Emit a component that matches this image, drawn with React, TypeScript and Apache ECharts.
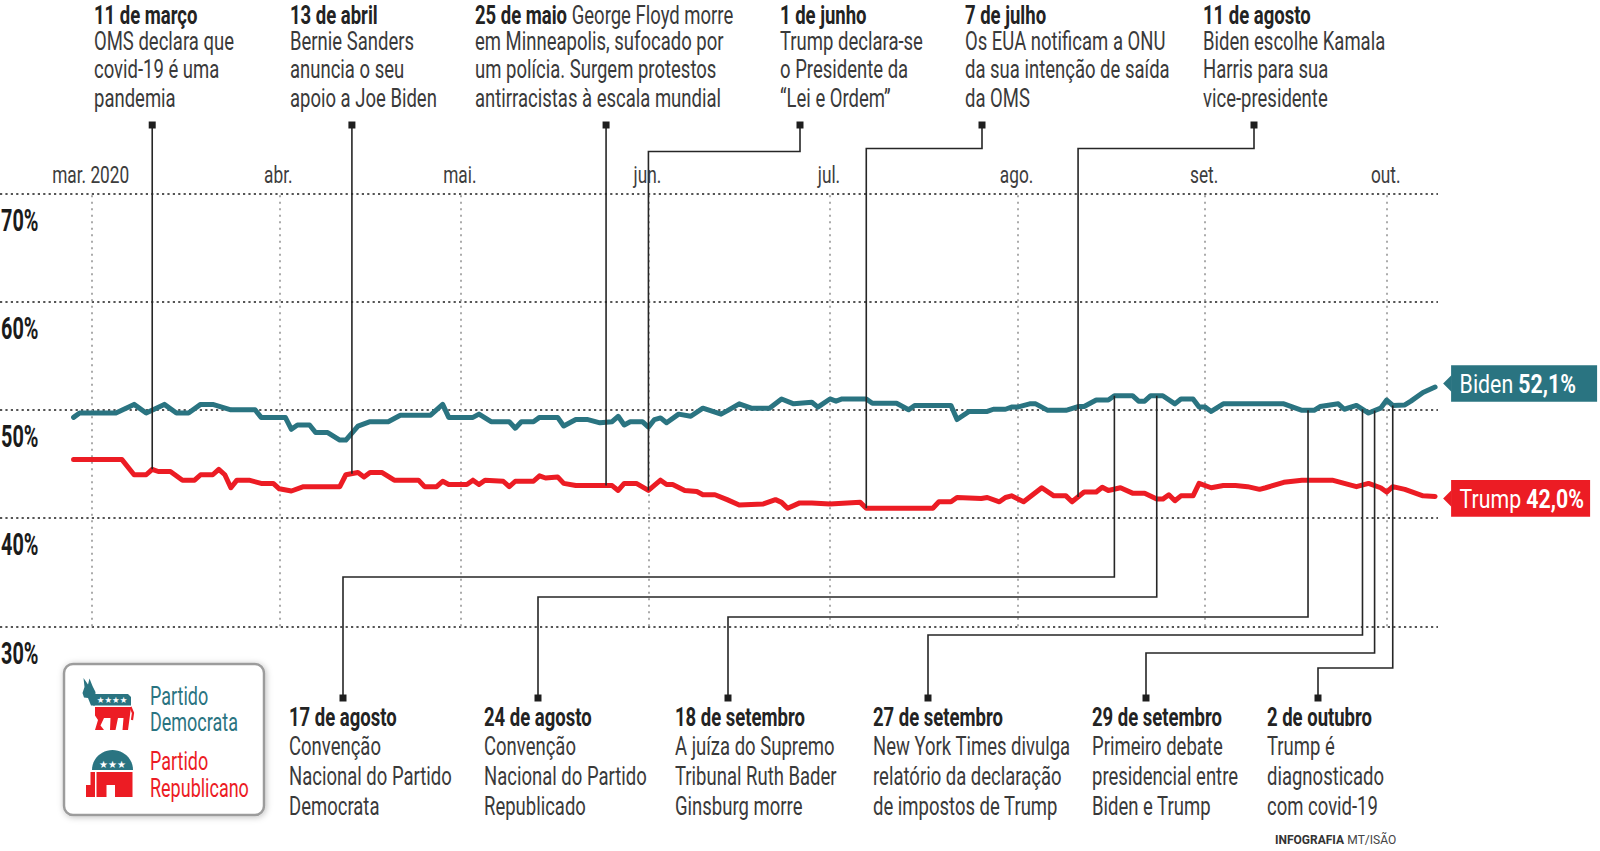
import React, { useEffect, useRef } from 'react';
import * as echarts from 'echarts';

// ---------- data ----------
const MONTH_STARTS = ['2020-03-01', '2020-04-01', '2020-05-01', '2020-06-01', '2020-07-01', '2020-08-01', '2020-09-01', '2020-10-01'];
const MONTH_LABELS = ['mar. 2020', 'abr.', 'mai.', 'jun.', 'jul.', 'ago.', 'set.', 'out.'];
const Y_MIN = 30;
const Y_MAX = 70;
const Y_STEP = 10;

const BIDEN: [string, number][] = [
  ['2020-02-27', 49.3], ['2020-02-28', 49.7], ['2020-03-05', 49.7], ['2020-03-08', 50.5], ['2020-03-10', 49.7],
  ['2020-03-13', 50.5], ['2020-03-15', 49.7], ['2020-03-17', 49.7], ['2020-03-19', 50.5], ['2020-03-21', 50.5],
  ['2020-03-24', 50.0], ['2020-03-28', 50.0], ['2020-03-29', 49.3], ['2020-04-02', 49.3], ['2020-04-03', 48.2],
  ['2020-04-04', 48.6], ['2020-04-06', 48.6], ['2020-04-07', 47.9], ['2020-04-09', 47.9], ['2020-04-11', 47.2],
  ['2020-04-12', 47.2], ['2020-04-14', 48.5], ['2020-04-16', 48.9], ['2020-04-19', 48.9], ['2020-04-21', 49.5],
  ['2020-04-26', 49.5], ['2020-04-28', 50.5], ['2020-04-29', 49.3], ['2020-05-03', 49.3], ['2020-05-04', 49.6],
  ['2020-05-06', 48.9], ['2020-05-09', 48.9], ['2020-05-10', 48.3], ['2020-05-11', 48.9], ['2020-05-13', 48.9],
  ['2020-05-14', 49.3], ['2020-05-17', 49.3], ['2020-05-18', 48.5], ['2020-05-20', 49.1], ['2020-05-22', 49.1],
  ['2020-05-24', 48.8], ['2020-05-26', 48.9], ['2020-05-27', 49.4], ['2020-05-28', 48.6], ['2020-05-29', 48.9],
  ['2020-05-31', 48.9], ['2020-06-01', 48.4], ['2020-06-02', 49.1], ['2020-06-03', 49.25], ['2020-06-04', 48.8],
  ['2020-06-06', 49.6], ['2020-06-08', 49.4], ['2020-06-10', 50.15], ['2020-06-13', 49.6], ['2020-06-14', 49.9],
  ['2020-06-16', 50.55], ['2020-06-18', 50.15], ['2020-06-21', 50.15], ['2020-06-23', 51.0], ['2020-06-25', 50.55],
  ['2020-06-28', 50.7], ['2020-06-29', 50.25], ['2020-07-01', 51.0], ['2020-07-02', 50.8], ['2020-07-03', 51.0],
  ['2020-07-07', 51.0], ['2020-07-08', 50.6], ['2020-07-12', 50.6], ['2020-07-14', 50.0], ['2020-07-15', 50.4],
  ['2020-07-21', 50.4], ['2020-07-22', 49.1], ['2020-07-24', 49.85], ['2020-07-27', 49.85], ['2020-07-28', 50.05],
  ['2020-07-30', 50.05], ['2020-07-31', 50.25], ['2020-08-01', 50.25], ['2020-08-03', 50.55], ['2020-08-04', 50.55],
  ['2020-08-06', 49.95], ['2020-08-09', 49.95], ['2020-08-11', 50.3], ['2020-08-12', 50.3], ['2020-08-14', 50.9],
  ['2020-08-16', 50.9], ['2020-08-17', 51.3], ['2020-08-20', 51.3], ['2020-08-21', 50.8], ['2020-08-22', 50.8],
  ['2020-08-23', 51.3], ['2020-08-25', 51.3], ['2020-08-27', 50.55], ['2020-08-28', 51.0], ['2020-08-30', 51.0],
  ['2020-08-31', 50.25], ['2020-09-01', 50.25], ['2020-09-02', 49.85], ['2020-09-04', 50.55], ['2020-09-14', 50.55],
  ['2020-09-17', 49.95], ['2020-09-19', 49.95], ['2020-09-20', 50.3], ['2020-09-23', 50.55], ['2020-09-24', 50.05],
  ['2020-09-26', 50.4], ['2020-09-28', 49.7], ['2020-09-30', 50.15], ['2020-10-01', 50.9], ['2020-10-02', 50.4],
  ['2020-10-04', 50.45], ['2020-10-05', 50.8], ['2020-10-07', 51.6], ['2020-10-09', 52.1],
];

const TRUMP: [string, number][] = [
  ['2020-02-27', 45.4], ['2020-03-06', 45.4], ['2020-03-08', 44.0], ['2020-03-10', 44.0], ['2020-03-11', 44.5],
  ['2020-03-12', 44.3], ['2020-03-14', 44.3], ['2020-03-16', 43.5], ['2020-03-18', 43.5], ['2020-03-19', 44.0],
  ['2020-03-21', 44.0], ['2020-03-22', 44.5], ['2020-03-23', 44.0], ['2020-03-24', 42.8], ['2020-03-25', 43.5],
  ['2020-03-27', 43.5], ['2020-03-29', 43.2], ['2020-03-31', 43.2], ['2020-04-01', 42.7], ['2020-04-03', 42.5],
  ['2020-04-05', 42.9], ['2020-04-11', 42.9], ['2020-04-12', 44.0], ['2020-04-14', 44.2], ['2020-04-15', 43.8],
  ['2020-04-16', 44.2], ['2020-04-18', 44.2], ['2020-04-20', 43.5], ['2020-04-24', 43.5], ['2020-04-25', 42.9],
  ['2020-04-27', 42.9], ['2020-04-28', 43.4], ['2020-04-29', 43.1], ['2020-05-02', 43.1], ['2020-05-03', 43.5],
  ['2020-05-04', 43.1], ['2020-05-05', 43.5], ['2020-05-08', 43.4], ['2020-05-09', 42.9], ['2020-05-10', 43.4],
  ['2020-05-13', 43.4], ['2020-05-14', 43.9], ['2020-05-15', 43.7], ['2020-05-17', 43.8], ['2020-05-18', 43.2],
  ['2020-05-20', 43.0], ['2020-05-26', 43.0], ['2020-05-27', 42.55], ['2020-05-28', 43.2], ['2020-05-30', 43.2],
  ['2020-06-01', 42.55], ['2020-06-03', 43.5], ['2020-06-04', 43.1], ['2020-06-05', 43.1], ['2020-06-07', 42.55],
  ['2020-06-09', 42.45], ['2020-06-10', 42.15], ['2020-06-12', 42.15], ['2020-06-14', 41.7], ['2020-06-16', 41.2],
  ['2020-06-20', 41.3], ['2020-06-22', 41.7], ['2020-06-23', 41.45], ['2020-06-24', 40.9], ['2020-06-26', 41.4],
  ['2020-06-28', 41.4], ['2020-07-01', 41.3], ['2020-07-06', 41.45], ['2020-07-07', 40.9], ['2020-07-18', 40.9],
  ['2020-07-19', 41.5], ['2020-07-21', 41.5], ['2020-07-22', 41.9], ['2020-07-26', 41.8], ['2020-07-27', 41.9],
  ['2020-07-29', 41.5], ['2020-07-30', 41.9], ['2020-07-31', 42.05], ['2020-08-02', 41.5], ['2020-08-05', 42.8],
  ['2020-08-07', 42.05], ['2020-08-09', 42.05], ['2020-08-10', 41.5], ['2020-08-12', 42.4], ['2020-08-14', 42.4],
  ['2020-08-15', 42.85], ['2020-08-16', 42.55], ['2020-08-18', 42.8], ['2020-08-20', 42.3], ['2020-08-22', 42.3],
  ['2020-08-24', 41.75], ['2020-08-25', 41.75], ['2020-08-26', 42.15], ['2020-08-27', 41.6], ['2020-08-28', 42.05],
  ['2020-08-30', 42.05], ['2020-08-31', 43.2], ['2020-09-02', 42.8], ['2020-09-04', 43.0], ['2020-09-06', 43.0],
  ['2020-09-08', 42.9], ['2020-09-10', 42.65], ['2020-09-11', 42.8], ['2020-09-14', 43.3], ['2020-09-17', 43.5],
  ['2020-09-22', 43.5], ['2020-09-24', 43.2], ['2020-09-26', 42.9], ['2020-09-28', 43.2], ['2020-09-30', 42.8],
  ['2020-10-01', 42.4], ['2020-10-02', 42.9], ['2020-10-04', 42.65], ['2020-10-07', 42.05], ['2020-10-09', 42.0],
];

const TOP_EVENT_DATES = ['2020-03-11', '2020-04-13', '2020-05-25', '2020-06-01', '2020-07-07', '2020-08-11'];
const TOP_EVENT_TITLES = ['11 de março', '13 de abril', '25 de maio', '1 de junho', '7 de julho', '11 de agosto'];
const TOP_EVENT_LEADS = ['', '', 'George Floyd morre', '', '', ''];
const TOP_EVENT_TEXTS = [
  ['OMS declara que', 'covid-19 é uma', 'pandemia'],
  ['Bernie Sanders', 'anuncia o seu', 'apoio a Joe Biden'],
  ['em Minneapolis, sufocado por', 'um polícia. Surgem protestos', 'antirracistas à escala mundial'],
  ['Trump declara-se', 'o Presidente da', '“Lei e Ordem”'],
  ['Os EUA notificam a ONU', 'da sua intenção de saída', 'da OMS'],
  ['Biden escolhe Kamala', 'Harris para sua', 'vice-presidente'],
];

const BOTTOM_EVENT_DATES = ['2020-08-17', '2020-08-24', '2020-09-18', '2020-09-27', '2020-09-29', '2020-10-02'];
const BOTTOM_EVENT_TITLES = ['17 de agosto', '24 de agosto', '18 de setembro', '27 de setembro', '29 de setembro', '2 de outubro'];
const BOTTOM_EVENT_TEXTS = [
  ['Convenção', 'Nacional do Partido', 'Democrata'],
  ['Convenção', 'Nacional do Partido', 'Republicado'],
  ['A juíza do Supremo', 'Tribunal Ruth Bader', 'Ginsburg morre'],
  ['New York Times divulga', 'relatório da declaração', 'de impostos de Trump'],
  ['Primeiro debate', 'presidencial entre', 'Biden e Trump'],
  ['Trump é', 'diagnosticado', 'com covid-19'],
];

const LEGEND_LABELS = [['Partido', 'Democrata'], ['Partido', 'Republicano']];
const CREDIT = ['INFOGRAFIA', 'MT/ISÃO'];

// ---------- style / layout ----------
const TEAL = '#2a7481';
const RED = '#ec1c24';
const INK = '#232323';
const BODY = '#3a3a3a';
const FONT = 'Roboto, "Noto Sans", sans-serif';
const SX = 0.74;
const DAY = 86400000;

const TOP_LAYOUT = [
  { textX: 94, squareX: null as number | null, elbowY: 0 },
  { textX: 290, squareX: null as number | null, elbowY: 0 },
  { textX: 475, squareX: null as number | null, elbowY: 0 },
  { textX: 780, squareX: 800, elbowY: 151.5 },
  { textX: 965, squareX: 982, elbowY: 148.5 },
  { textX: 1203, squareX: 1254, elbowY: 148.5 },
];
const TOP_LINE_Y = [15, 41, 69.5, 98];
const TOP_SQUARE_Y = 125;

const BOTTOM_LAYOUT = [
  { textX: 289, squareX: 343, elbowY: 577 },
  { textX: 484, squareX: 538, elbowY: 597 },
  { textX: 675, squareX: 728, elbowY: 617 },
  { textX: 873, squareX: 928, elbowY: 635 },
  { textX: 1092, squareX: 1146, elbowY: 653 },
  { textX: 1267, squareX: 1318, elbowY: 668 },
];
const BOTTOM_LINE_Y = [717, 746, 776, 806];
const BOTTOM_SQUARE_Y = 698;

function ts(s: string): number {
  const [y, m, d] = s.split('-').map(Number);
  return new Date(y, m - 1, d).getTime();
}

function valueAt(series: [string, number][], t: number): number {
  for (let i = 0; i < series.length - 1; i++) {
    const t0 = ts(series[i][0]);
    const t1 = ts(series[i + 1][0]);
    if (t >= t0 && t <= t1) {
      const f = t1 === t0 ? 0 : (t - t0) / (t1 - t0);
      return series[i][1] + f * (series[i + 1][1] - series[i][1]);
    }
  }
  return series[series.length - 1][1];
}

const fmtPct = (v: number) => v.toFixed(1).replace('.', ',') + '%';

function buildOption(): any {
  const monthTs = MONTH_STARTS.map(ts);
  return {
    animation: false,
    backgroundColor: '#ffffff',
    grid: { left: 0, right: 162, top: 193.3, bottom: 224.7 },
    xAxis: {
      type: 'time',
      position: 'top',
      min: new Date(2020, 1, 14, 20, 18).getTime(),
      max: new Date(2020, 9, 9, 11, 30).getTime(),
      minInterval: 28 * DAY,
      maxInterval: 31 * DAY,
      axisLine: { show: false },
      axisTick: { show: false },
      splitLine: { show: false },
      axisLabel: { show: false },
    },
    yAxis: {
      type: 'value',
      min: Y_MIN,
      max: Y_MAX,
      interval: Y_STEP,
      position: 'left',
      axisLine: { show: false },
      axisTick: { show: false },
      splitLine: { show: true, lineStyle: { color: '#555555', width: 2.2, type: [2.2, 3.2] } },
      axisLabel: { show: false },
    },
    series: [
      {
        name: 'Trump',
        type: 'line',
        data: TRUMP.map(([d, v]) => [ts(d), v]),
        symbol: 'none',
        z: 3,
        lineStyle: { color: RED, width: 5, cap: 'round', join: 'round' },
        itemStyle: { color: RED },
        markLine: {
          silent: true,
          z: 1,
          symbol: ['none', 'none'],
          label: { show: false },
          emphasis: { disabled: true },
          lineStyle: { color: '#ababab', width: 2, type: [2, 4.5] },
          data: monthTs.map((m) => ({ xAxis: m })),
        },
      },
      {
        name: 'Biden',
        type: 'line',
        data: BIDEN.map(([d, v]) => [ts(d), v]),
        symbol: 'none',
        z: 4,
        lineStyle: { color: TEAL, width: 5, cap: 'round', join: 'round' },
        itemStyle: { color: TEAL },
      },
    ],
  };
}

function textEl(x: number, y: number, text: string, opts: any, sx = SX): any {
  return {
    type: 'text',
    x,
    y,
    scaleX: sx,
    z: 30,
    silent: true,
    style: {
      text,
      fontFamily: FONT,
      fontSize: 25,
      fill: BODY,
      align: 'left',
      verticalAlign: 'middle',
      ...opts,
    },
  };
}

function buildGraphics(chart: any): any[] {
  const els: any[] = [];
  const toPx = (t: number, v: number) => chart.convertToPixel({ xAxisIndex: 0, yAxisIndex: 0 }, [t, v]) as number[];
  const titleRich = {
    t: { fontFamily: FONT, fontSize: 25, fontWeight: 'bold', fill: INK },
    r: { fontFamily: FONT, fontSize: 25, fill: BODY },
  };

  // axis tick labels, placed with the axes' own scales
  MONTH_STARTS.forEach((m, i) => {
    const px = chart.convertToPixel({ xAxisIndex: 0 }, ts(m)) as number;
    els.push(textEl(px - 1, 175, MONTH_LABELS[i], { fontSize: 23.5, fill: '#3d3d3d', align: 'center' }, 0.735));
  });
  for (let v = Y_MIN; v <= Y_MAX; v += Y_STEP) {
    const py = chart.convertToPixel({ yAxisIndex: 0 }, v) as number;
    els.push(textEl(1, py + 26, `${v}%`, { fontSize: 32, fontWeight: 'bold', fill: '#1b1b1b' }, 0.62));
  }

  const connector = (sqX: number | null, sqY: number, elbowY: number, dx: number, dy: number) => {
    const x0 = sqX === null ? dx : sqX;
    const pts = sqX === null || Math.abs(sqX - dx) < 1
      ? [[dx, sqY], [dx, dy]]
      : [[x0, sqY], [x0, elbowY], [dx, elbowY], [dx, dy]];
    els.push({
      type: 'polyline', z: 25, silent: true,
      shape: { points: pts },
      style: { stroke: '#262626', lineWidth: 1.6, fill: null },
    });
    els.push({
      type: 'rect', z: 26, silent: true,
      shape: { x: x0 - 3.5, y: sqY - 3.5, width: 7, height: 7 },
      style: { fill: '#1e1e1e' },
    });
  };

  // top annotations -> Trump line
  TOP_EVENT_DATES.forEach((d, i) => {
    const t = ts(d);
    const [dx, dy] = toPx(t, valueAt(TRUMP, t));
    const L = TOP_LAYOUT[i];
    connector(L.squareX, TOP_SQUARE_Y, L.elbowY, dx, dy);
    const lead = TOP_EVENT_LEADS[i];
    els.push(textEl(L.textX, TOP_LINE_Y[0], lead ? `{t|${TOP_EVENT_TITLES[i]}}{r| ${lead}}` : `{t|${TOP_EVENT_TITLES[i]}}`, { rich: titleRich }));
    TOP_EVENT_TEXTS[i].forEach((ln, j) => els.push(textEl(L.textX, TOP_LINE_Y[j + 1], ln, {})));
  });

  // bottom annotations -> Biden line
  BOTTOM_EVENT_DATES.forEach((d, i) => {
    const t = ts(d);
    const [dx, dy] = toPx(t, valueAt(BIDEN, t));
    const L = BOTTOM_LAYOUT[i];
    connector(L.squareX, BOTTOM_SQUARE_Y, L.elbowY, dx, dy);
    els.push(textEl(L.textX, BOTTOM_LINE_Y[0], `{t|${BOTTOM_EVENT_TITLES[i]}}`, { rich: titleRich }));
    BOTTOM_EVENT_TEXTS[i].forEach((ln, j) => els.push(textEl(L.textX, BOTTOM_LINE_Y[j + 1], ln, {})));
  });

  // end labels
  const endLabel = (series: [string, number][], name: string, color: string, width: number, dyOff: number) => {
    const last = series[series.length - 1];
    const [ex, ey] = toPx(ts(last[0]), last[1]);
    const cy = ey + dyOff;
    const left = ex + 16;
    els.push({
      type: 'polygon', z: 20, silent: true,
      shape: { points: [[left - 8, cy], [left + 0.5, cy - 8.5], [left + 0.5, cy + 8.5]] },
      style: { fill: color },
    });
    els.push({
      type: 'rect', z: 20, silent: true,
      shape: { x: left, y: cy - 18.3, width, height: 36.6 },
      style: { fill: color },
    });
    els.push(textEl(left + 8.5, cy + 0.5, `{r|${name}} {b|${fmtPct(last[1])}}`, {
      rich: {
        r: { fontFamily: FONT, fontSize: 26, fill: '#ffffff' },
        b: { fontFamily: FONT, fontSize: 26, fontWeight: 'bold', fill: '#ffffff' },
      },
    }, 0.82));
  };
  endLabel(BIDEN, 'Biden', TEAL, 146, -3.5);
  endLabel(TRUMP, 'Trump', RED, 139, 2);

  // legend box
  els.push({
    type: 'rect', z: 15, silent: true,
    shape: { x: 64, y: 664, width: 200, height: 151, r: 9 },
    style: { fill: '#ffffff', stroke: '#9c9c9c', lineWidth: 2.5, shadowBlur: 6, shadowColor: 'rgba(0,0,0,0.25)', shadowOffsetX: 1, shadowOffsetY: 1 },
  });
  // donkey (Partido Democrata)
  els.push({
    type: 'polygon', z: 16, silent: true,
    shape: { points: [[83.5, 678], [88, 684.5], [89.5, 678.5], [92.5, 686], [95.5, 692], [95, 705.5], [91, 705.5], [88, 698], [84, 697.5], [82.5, 693], [84.5, 687]] },
    style: { fill: TEAL },
  });
  els.push({
    type: 'polygon', z: 16, silent: true,
    shape: { points: [[93, 694], [128, 694], [131, 697], [131, 705.5], [93, 705.5]] },
    style: { fill: TEAL },
  });
  els.push({
    type: 'text', z: 17, silent: true, x: 112, y: 700,
    style: { text: '★★★★', fontFamily: 'DejaVu Sans', fontSize: 8.5, fill: '#fff', align: 'center', verticalAlign: 'middle' },
  });
  els.push({
    type: 'polygon', z: 16, silent: true,
    shape: { points: [[95, 707], [131, 707], [130, 715], [128, 730], [122.5, 730], [123.5, 718], [118, 718], [115.5, 730], [110, 730], [110.5, 718], [104, 718], [100.5, 725.5], [104, 730], [95, 730], [98, 720], [95, 715.5]] },
    style: { fill: RED },
  });
  els.push({
    type: 'polyline', z: 16, silent: true,
    shape: { points: [[130.5, 707], [133, 713], [132, 720]] },
    style: { stroke: RED, lineWidth: 2.2, fill: null },
  });
  // elephant (Partido Republicano)
  const dome: number[][] = [];
  for (let k = 0; k <= 24; k++) {
    const a = (Math.PI * k) / 24;
    dome.push([112.5 - 20.5 * Math.cos(a), 770 - 20 * Math.sin(a)]);
  }
  els.push({ type: 'polygon', z: 16, silent: true, shape: { points: dome }, style: { fill: TEAL } });
  els.push({
    type: 'text', z: 17, silent: true, x: 112.5, y: 764,
    style: { text: '★★★', fontFamily: 'DejaVu Sans', fontSize: 10, fill: '#fff', align: 'center', verticalAlign: 'middle' },
  });
  els.push({
    type: 'polygon', z: 16, silent: true,
    shape: { points: [[90.5, 772], [95, 772], [95, 797], [86, 797], [86, 785], [90.5, 785]] },
    style: { fill: RED },
  });
  els.push({
    type: 'polygon', z: 16, silent: true,
    shape: { points: [[96.5, 772], [132.5, 772], [132.5, 797], [115, 797], [115, 785], [106.5, 785], [106.5, 797], [96.5, 797]] },
    style: { fill: RED },
  });
  const legendY = [[696, 722.5], [761.5, 788.3]];
  [TEAL, RED].forEach((c, i) => {
    LEGEND_LABELS[i].forEach((ln, j) => els.push(textEl(150, legendY[i][j], ln, { fill: c }, 0.72)));
  });

  // credit
  els.push({
    type: 'text', z: 30, silent: true, x: 1275, y: 840,
    style: {
      text: `{b|${CREDIT[0]}} {r|${CREDIT[1]}}`,
      verticalAlign: 'middle',
      rich: {
        b: { fontFamily: FONT, fontSize: 12, fontWeight: 'bold', fill: '#333' },
        r: { fontFamily: FONT, fontSize: 12, fill: '#444' },
      },
    },
  });

  return els;
}

export default function App() {
  const ref = useRef<HTMLDivElement>(null);
  useEffect(() => {
    const el = ref.current;
    if (!el) return;
    const chart = echarts.init(el, null, { renderer: 'svg' });
    chart.setOption(buildOption());
    chart.setOption({ graphic: { elements: buildGraphics(chart) } });
    return () => chart.dispose();
  }, []);
  return (
    <div
      ref={ref}
      style={{ position: 'absolute', left: 0, top: 0, width: 1600, height: 851, background: '#ffffff' }}
    />
  );
}
